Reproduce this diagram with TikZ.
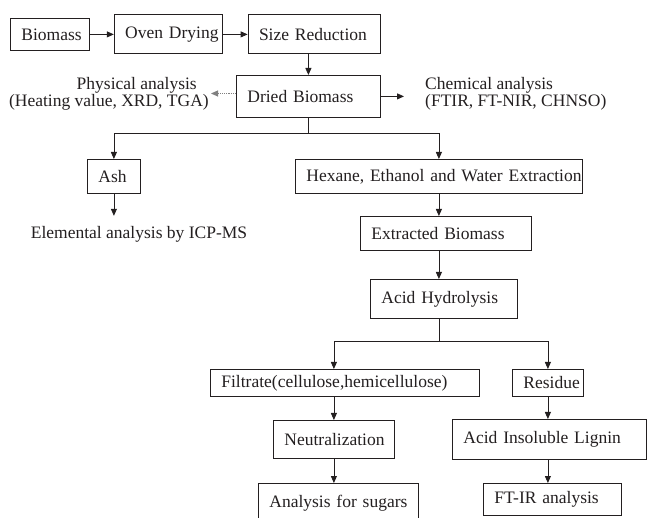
\documentclass[tikz,border=0pt]{standalone}
\usepackage{fontspec}
\setmainfont{Liberation Serif}
\usepackage{tikz}
\usetikzlibrary{arrows.meta,positioning,calc}
\definecolor{ink}{HTML}{231F20}
\definecolor{dots}{HTML}{808080}

\begin{document}
\begin{tikzpicture}[x=1pt, y=1pt,
      font=\fontsize{17.5}{17}\selectfont,
      box/.style={draw=ink, line width=0.8pt, text=ink, align=left, inner xsep=0pt, inner ysep=3pt, text width=#1, execute at begin node={\noindent\hspace*{11pt}}},
      txt/.style={text=ink, inner sep=2pt},
      line/.style={line width=0.8pt, color=ink},
      arr/.style={-{Triangle[length=7pt,width=6pt]}, line width=0.8pt, color=ink},
      dotarr/.style={-{Triangle[length=7pt,width=6pt]}, line width=0.9pt, densely dotted, color=dots}]
    \useasboundingbox (0,0) rectangle (648,-518);
    % top row
    \node[box=79pt, minimum height=32pt, anchor=north west] (bio) at (10,-18) {Biomass};
    \node[box=108pt, minimum height=39pt, right=24pt of bio] (oven) {Oven Drying};
    \node[box=132pt, minimum height=39pt, right=25pt of oven] (size) {Size Reduction};
    \node[box=144pt, minimum height=42pt, anchor=north west] (dried) at (236,-75) {Dried Biomass};
    \node[txt, align=right, anchor=east] (phys) at (211,-93.5) {Physical analysis\kern12pt\\(Heating value, XRD, TGA)};
    \node[txt, align=left, anchor=west] (chem) at (423,-93.5) {Chemical analysis\\(FTIR, FT-NIR, CHNSO)};
    % left branch
    \node[box=53pt, minimum height=34pt, anchor=north west] (ash) at (87,-159) {Ash};
    \node[txt] (elem) at (139,-234) {Elemental analysis by ICP-MS};
    % extraction chain
    \node[box=287pt, minimum height=34pt, anchor=north west] (hex) at (295,-159) {Hexane, Ethanol and Water Extraction};
    \node[box=171pt, minimum height=34pt, anchor=north west] (ext) at (360,-216) {Extracted Biomass};
    \node[box=147pt, minimum height=39pt, anchor=north west] (acid) at (370,-279) {Acid Hydrolysis};
    \node[box=269pt, minimum height=27pt, anchor=north west] (filt) at (210,-369) {Filtrate(cellulose,hemicellulose)};
    \node[box=71pt, minimum height=27pt, anchor=north west] (res) at (512,-369) {Residue};
    \node[box=121pt, minimum height=38pt, anchor=north west] (neut) at (273,-420) {Neutralization};
    \node[box=194pt, minimum height=40pt, anchor=north west] (ail) at (452,-419) {Acid Insoluble Lignin};
    \node[box=160pt, minimum height=40pt, anchor=north west] (sug) at (258,-483) {Analysis for sugars};
    \node[box=138pt, minimum height=32pt, anchor=north west] (ftir) at (483,-483) {FT-IR analysis};
    % connectors
    \draw[arr] (bio) -- (oven);
    \draw[arr] (oven) -- (size);
    \draw[arr] (dried.north |- size.south) -- (dried.north);
    \draw[dotarr] (phys.east -| dried.west) -- (phys.east);
    \draw[arr, shorten >=19pt] (dried.east) -- (dried.east -| chem.west);
    \coordinate[below=16pt of dried.south] (sp1);
    \draw[line] (dried) -- (sp1);
    \draw[arr] (sp1) -| (ash);
    \draw[arr] (sp1) -| (hex);
    \draw[arr, shorten >=8pt] (ash) -- (ash |- elem.north);
    \draw[arr] (hex.south) -- (hex.south |- ext.north);
    \draw[arr] (hex.south |- ext.south) -- (hex.south |- acid.north);
    \path (acid.south -| hex.south) ++(0,-23) coordinate (sp2);
    \draw[line] (acid.south -| sp2) -- (sp2);
    \draw[arr] (sp2) -| (neut |- filt.north);
    \draw[arr] (sp2) -| (res);
    \draw[arr] (neut |- filt.south) -- (neut);
    \draw[arr] (neut) -- (neut |- sug.north);
    \draw[arr] (res) -- (res |- ail.north);
    \draw[arr] (res |- ail.south) -- (res |- ftir.north);
  \end{tikzpicture}
\end{document}
